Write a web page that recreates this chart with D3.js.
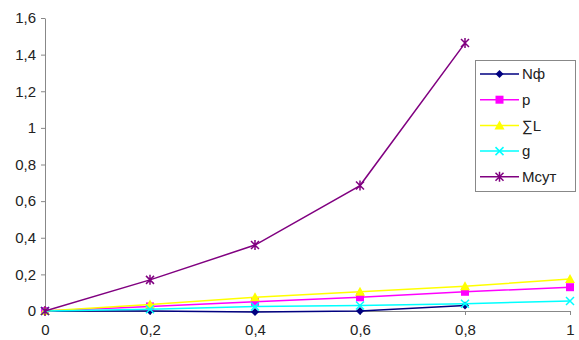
<!DOCTYPE html>
<html><head><meta charset="utf-8">
<script src="https://cdn.jsdelivr.net/npm/d3@7/dist/d3.min.js"></script>
<style>body{margin:0;background:#fff}svg{display:block}text{font-family:"Liberation Sans",Arial,sans-serif;}</style>
</head><body>
<script>
const xValues = [0, 0.2, 0.4, 0.6, 0.8, 1];
const seriesNames = ["Nф", "p", "∑L", "g", "Mсут"];
const valNf = [0, 0, -0.005, 0, 0.03, null];
const valP = [0, 0.025, 0.05, 0.075, 0.105, 0.13];
const valL = [0, 0.035, 0.075, 0.105, 0.135, 0.175];
const valG = [0, 0.01, 0.025, 0.03, 0.04, 0.055];
const valM = [0, 0.17, 0.36, 0.685, 1.463, null];
const xTicks = [0, 0.2, 0.4, 0.6, 0.8, 1];
const yTicks = [0, 0.2, 0.4, 0.6, 0.8, 1, 1.2, 1.4, 1.6];

const colors = ["#000080", "#ff00ff", "#ffff00", "#00ffff", "#800080"];
const shapes = ["diamond", "square", "triangle", "x", "star"];
const allVals = [valNf, valP, valL, valG, valM];

const W = 579, H = 340;
const svg = d3.select("body").append("svg").attr("width", W).attr("height", H);
const x = d3.scaleLinear().domain([0, 1]).range([45, 570]);
const y = d3.scaleLinear().domain([0, 1.6]).range([311, 18]);
const fmt = d => String(+d.toFixed(1)).replace(".", ",");

const yAxis = svg.append("g").attr("transform", "translate(45,0)")
  .call(d3.axisLeft(y).tickValues(yTicks).tickFormat(fmt).tickSize(4).tickSizeOuter(0));
const xAxis = svg.append("g").attr("transform", "translate(0,311)")
  .call(d3.axisBottom(x).tickValues(xTicks).tickFormat(fmt).tickSize(4).tickSizeOuter(0));
[yAxis, xAxis].forEach(a => {
  a.selectAll("path,line").attr("stroke", "#888").attr("stroke-width", 1);
  a.selectAll("text").attr("fill", "#222").style("font-size", "15px");
});
yAxis.selectAll("text").attr("dx", "-2");
xAxis.selectAll("text").attr("dy", "1.13em");

function marker(g, shape, color, cx, cy) {
  if (shape === "diamond") g.append("path").attr("d", `M${cx},${cy-4}L${cx+4},${cy}L${cx},${cy+4}L${cx-4},${cy}Z`).attr("fill", color);
  else if (shape === "square") g.append("rect").attr("x", cx-4).attr("y", cy-4).attr("width", 8).attr("height", 8).attr("fill", color);
  else if (shape === "triangle") g.append("path").attr("d", `M${cx},${cy-5}L${cx+5},${cy+4}L${cx-5},${cy+4}Z`).attr("fill", color);
  else if (shape === "x") g.append("path").attr("d", `M${cx-4},${cy-4}L${cx+4},${cy+4}M${cx-4},${cy+4}L${cx+4},${cy-4}`).attr("stroke", color).attr("stroke-width", 1.5);
  else g.append("path").attr("d", `M${cx-4},${cy-4}L${cx+4},${cy+4}M${cx-4},${cy+4}L${cx+4},${cy-4}M${cx},${cy-5}L${cx},${cy+5}`).attr("stroke", color).attr("stroke-width", 1.5);
}

const line = d3.line().defined(d => d[1] !== null).x(d => x(d[0])).y(d => y(d[1]));
allVals.forEach((vals, i) => {
  const pts = xValues.map((xv, j) => [xv, vals[j]]);
  const g = svg.append("g");
  g.append("path").attr("d", line(pts)).attr("fill", "none").attr("stroke", colors[i]).attr("stroke-width", 1.5);
  pts.filter(p => p[1] !== null).forEach(p => marker(g, shapes[i], colors[i], x(p[0]), y(p[1])));
});

// legend
const lg = svg.append("g");
lg.append("rect").attr("x", 475.5).attr("y", 60.5).attr("width", 100).attr("height", 131).attr("fill", "#fff").attr("stroke", "#888");
seriesNames.forEach((n, i) => {
  const cy = 74 + i * 25.7;
  lg.append("line").attr("x1", 480).attr("x2", 519).attr("y1", cy).attr("y2", cy).attr("stroke", colors[i]).attr("stroke-width", 1.5);
  marker(lg, shapes[i], colors[i], 499.5, cy);
  lg.append("text").attr("x", 522).attr("y", cy).attr("dy", "0.35em").attr("fill", "#222").style("font-size", "15px").text(n);
});
</script>
</body></html>
